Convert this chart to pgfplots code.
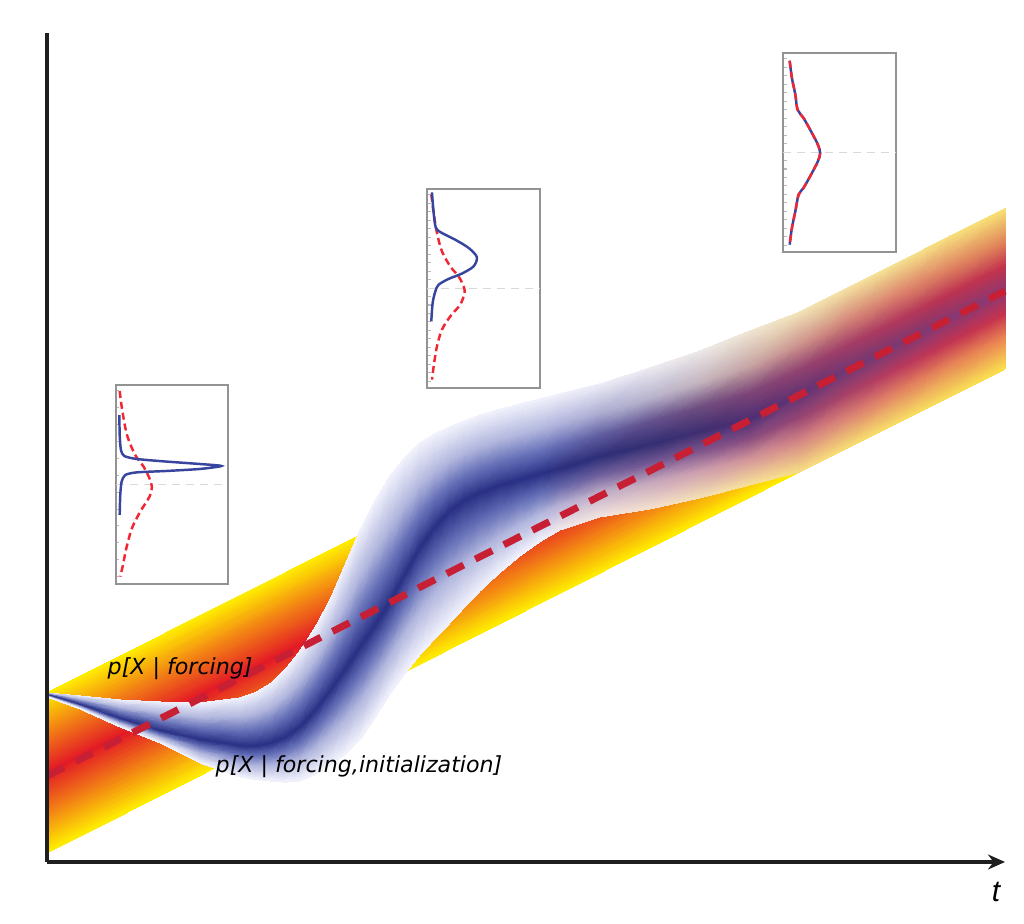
\documentclass[border=0pt]{standalone}
\usepackage{fontspec}
\usepackage{pgfplots}
\pgfplotsset{compat=1.18}
\usetikzlibrary{arrows.meta}
\setmainfont{Liberation Sans}
\newfontfamily\dvs{DejaVu Sans}
\definecolor{dashred}{rgb}{0.78,0.12,0.20}
\definecolor{inblue}{rgb}{0.22,0.27,0.62}
\definecolor{inred}{rgb}{0.95,0.15,0.20}
\definecolor{axgray}{rgb}{0.12,0.12,0.12}
\begin{document}
\begin{tikzpicture}
\useasboundingbox (-0.47cm,-0.62cm) rectangle (9.77cm,8.62cm);
\begin{axis}[
  scale only axis, width=9.58cm, height=8.29cm,
  xmin=47, xmax=1005, ymin=62, ymax=891,
  axis x line=bottom, axis y line=left,
  axis line style={axgray, line width=0.9pt},
  x axis line style={-{Stealth[length=0.17cm,width=0.15cm]}},
  y axis line style={-},
  xtick=\empty, ytick=\empty,
  clip=false, axis on top,
]
% forcing band (yellow-red)
\addplot[surf, shader=interp, mesh/color input=explicit, mesh/cols=2] table[x=x,y=y,meta=c] {
x y c
47 231 rgb=1,0.93,0
1005 714 rgb=1,0.93,0

47 191 rgb=0.95,0.50,0.08
1005 674.5 rgb=0.95,0.50,0.08

47 151 rgb=0.89,0.10,0.15
1005 635 rgb=0.89,0.10,0.15

47 111 rgb=0.95,0.50,0.08
1005 595.5 rgb=0.95,0.50,0.08

47 71 rgb=1,0.93,0
1005 556 rgb=1,0.93,0
};
% forcing + initialization band (blue)
\addplot[surf, shader=interp, mesh/color input=explicit, mesh/cols=35] table[x=x,y=y,meta=c] {
x y c
47 231 rgb=0.95,0.95,0.99
80 228 rgb=0.95,0.95,0.99
120 224 rgb=0.95,0.95,0.99
160 222 rgb=0.95,0.95,0.99
200 221 rgb=0.95,0.95,0.99
240 226 rgb=0.95,0.95,0.99
255 231.2 rgb=0.95,0.95,0.99
270 240 rgb=0.95,0.95,0.99
285 254.2 rgb=0.95,0.95,0.99
300 273 rgb=0.95,0.95,0.99
315 296.2 rgb=0.95,0.95,0.99
330 324 rgb=0.95,0.95,0.99
345 358.8 rgb=0.95,0.95,0.99
360 394 rgb=0.95,0.95,0.99
375 423.3 rgb=0.95,0.95,0.99
390 448 rgb=0.95,0.95,0.99
405 466.9 rgb=0.95,0.95,0.99
420 481 rgb=0.95,0.95,0.99
435 490.3 rgb=0.95,0.95,0.99
450 497 rgb=0.95,0.95,0.99
465 503.5 rgb=0.95,0.95,0.99
480 509 rgb=0.95,0.95,0.99
500 514.9 rgb=0.95,0.95,0.99
520 520 rgb=0.95,0.95,0.99
540 525.1 rgb=0.95,0.95,0.99
560 530 rgb=0.94,0.94,0.98
600 540 rgb=0.93,0.93,0.97
650 556 rgb=0.93,0.92,0.95
700 573 rgb=0.93,0.91,0.91
750 593 rgb=0.94,0.90,0.83
800 612 rgb=0.95,0.89,0.72
850 637 rgb=0.96,0.88,0.63
900 662 rgb=0.96,0.88,0.56
950 688 rgb=0.97,0.88,0.50
1005 715 rgb=0.97,0.88,0.45

47 230.2 rgb=0.70,0.72,0.87
80 224.4 rgb=0.70,0.72,0.87
120 216.4 rgb=0.70,0.72,0.87
160 210.4 rgb=0.70,0.72,0.87
200 206.2 rgb=0.70,0.72,0.87
240 206.8 rgb=0.70,0.72,0.87
255 209.8 rgb=0.70,0.72,0.87
270 216 rgb=0.70,0.72,0.87
285 226.9 rgb=0.70,0.72,0.87
300 242.2 rgb=0.70,0.72,0.87
315 262.65 rgb=0.70,0.72,0.87
330 287.2 rgb=0.70,0.72,0.87
345 316.6 rgb=0.70,0.72,0.87
360 346.8 rgb=0.70,0.72,0.87
375 373.1 rgb=0.70,0.72,0.87
390 397.2 rgb=0.70,0.72,0.87
405 419.7 rgb=0.70,0.72,0.87
420 439 rgb=0.70,0.72,0.87
435 452.9 rgb=0.70,0.72,0.87
450 463.4 rgb=0.70,0.72,0.87
465 471.6 rgb=0.70,0.72,0.87
480 477.8 rgb=0.70,0.72,0.87
500 484.3 rgb=0.70,0.72,0.87
520 489.6 rgb=0.70,0.72,0.87
540 494.9 rgb=0.70,0.72,0.87
560 500 rgb=0.69,0.70,0.86
600 510.8 rgb=0.68,0.68,0.82
650 525.2 rgb=0.72,0.70,0.80
700 540.6 rgb=0.76,0.70,0.74
750 557.4 rgb=0.78,0.64,0.64
800 578.8 rgb=0.80,0.57,0.55
850 604.2 rgb=0.83,0.52,0.47
900 629.2 rgb=0.86,0.50,0.42
950 654.8 rgb=0.87,0.51,0.38
1005 682.2 rgb=0.88,0.52,0.35

47 229.6 rgb=0.40,0.44,0.72
80 221.7 rgb=0.40,0.44,0.72
120 210.7 rgb=0.40,0.44,0.72
160 201.7 rgb=0.40,0.44,0.72
200 195.1 rgb=0.40,0.44,0.72
240 192.4 rgb=0.40,0.44,0.72
255 193.75 rgb=0.40,0.44,0.72
270 198 rgb=0.40,0.44,0.72
285 206.4 rgb=0.40,0.44,0.72
300 219.1 rgb=0.40,0.44,0.72
315 237.45 rgb=0.40,0.44,0.72
330 259.6 rgb=0.40,0.44,0.72
345 285 rgb=0.40,0.44,0.72
360 311.4 rgb=0.40,0.44,0.72
375 335.45 rgb=0.40,0.44,0.72
390 359.1 rgb=0.40,0.44,0.72
405 384.4 rgb=0.40,0.44,0.72
420 407.5 rgb=0.40,0.44,0.72
435 424.85 rgb=0.40,0.44,0.72
450 438.2 rgb=0.40,0.44,0.72
465 447.6 rgb=0.40,0.44,0.72
480 454.4 rgb=0.40,0.44,0.72
500 461.4 rgb=0.40,0.44,0.72
520 466.8 rgb=0.40,0.44,0.72
540 472.25 rgb=0.40,0.44,0.72
560 477.5 rgb=0.38,0.41,0.69
600 488.9 rgb=0.38,0.37,0.63
650 502.1 rgb=0.39,0.32,0.56
700 516.3 rgb=0.43,0.30,0.50
750 530.7 rgb=0.49,0.27,0.47
800 553.9 rgb=0.57,0.26,0.44
850 579.6 rgb=0.64,0.24,0.40
900 604.6 rgb=0.70,0.22,0.36
950 629.9 rgb=0.74,0.20,0.32
1005 657.6 rgb=0.77,0.20,0.30

47 229 rgb=0.16,0.19,0.52
80 219 rgb=0.16,0.19,0.52
120 205 rgb=0.16,0.19,0.52
160 193 rgb=0.16,0.19,0.52
200 184 rgb=0.16,0.19,0.52
240 178 rgb=0.16,0.19,0.52
255 177.7 rgb=0.16,0.19,0.52
270 180 rgb=0.16,0.19,0.52
285 185.9 rgb=0.16,0.19,0.52
300 196 rgb=0.16,0.19,0.52
315 212.25 rgb=0.16,0.19,0.52
330 232 rgb=0.16,0.19,0.52
345 253.4 rgb=0.16,0.19,0.52
360 276 rgb=0.16,0.19,0.52
375 297.8 rgb=0.16,0.19,0.52
390 321 rgb=0.16,0.19,0.52
405 349 rgb=0.16,0.19,0.52
420 376 rgb=0.16,0.19,0.52
435 396.8 rgb=0.16,0.19,0.52
450 413 rgb=0.16,0.19,0.52
465 423.7 rgb=0.16,0.19,0.52
480 431 rgb=0.16,0.19,0.52
500 438.5 rgb=0.16,0.19,0.52
520 444 rgb=0.16,0.19,0.52
540 449.6 rgb=0.16,0.19,0.52
560 455 rgb=0.17,0.18,0.49
600 467 rgb=0.18,0.18,0.47
650 479 rgb=0.20,0.18,0.45
700 492 rgb=0.24,0.18,0.44
750 504 rgb=0.30,0.18,0.45
800 529 rgb=0.38,0.20,0.45
850 555 rgb=0.44,0.22,0.45
900 580 rgb=0.48,0.22,0.45
950 605 rgb=0.52,0.22,0.45
1005 633 rgb=0.55,0.22,0.45

47 228.4 rgb=0.40,0.44,0.72
80 217.8 rgb=0.40,0.44,0.72
120 202.6 rgb=0.40,0.44,0.72
160 189.4 rgb=0.40,0.44,0.72
200 177.1 rgb=0.40,0.44,0.72
240 168.7 rgb=0.40,0.44,0.72
255 167.7 rgb=0.40,0.44,0.72
270 168.9 rgb=0.40,0.44,0.72
285 172.7 rgb=0.40,0.44,0.72
300 180.1 rgb=0.40,0.44,0.72
315 193.35 rgb=0.40,0.44,0.72
330 210.1 rgb=0.40,0.44,0.72
345 228.3 rgb=0.40,0.44,0.72
360 248.4 rgb=0.40,0.44,0.72
375 270.3 rgb=0.40,0.44,0.72
390 293.7 rgb=0.40,0.44,0.72
405 319.4 rgb=0.40,0.44,0.72
420 343.9 rgb=0.40,0.44,0.72
435 363.4 rgb=0.40,0.44,0.72
450 379.4 rgb=0.40,0.44,0.72
465 391.8 rgb=0.40,0.44,0.72
480 401.6 rgb=0.40,0.44,0.72
500 412.4 rgb=0.40,0.44,0.72
520 421.2 rgb=0.40,0.44,0.72
540 429.4 rgb=0.40,0.44,0.72
560 436.7 rgb=0.40,0.40,0.66
600 449 rgb=0.43,0.37,0.61
650 459.8 rgb=0.46,0.35,0.58
700 472.2 rgb=0.50,0.33,0.55
750 484.5 rgb=0.54,0.30,0.50
800 505.9 rgb=0.59,0.27,0.45
850 531.6 rgb=0.66,0.25,0.40
900 556.6 rgb=0.72,0.22,0.36
950 581.6 rgb=0.76,0.20,0.32
1005 609.6 rgb=0.78,0.20,0.30

47 227.8 rgb=0.70,0.72,0.87
80 216.6 rgb=0.70,0.72,0.87
120 200.2 rgb=0.70,0.72,0.87
160 185.8 rgb=0.70,0.72,0.87
200 170.2 rgb=0.70,0.72,0.87
240 159.4 rgb=0.70,0.72,0.87
255 157.7 rgb=0.70,0.72,0.87
270 157.8 rgb=0.70,0.72,0.87
285 159.4 rgb=0.70,0.72,0.87
300 164.2 rgb=0.70,0.72,0.87
315 174.55 rgb=0.70,0.72,0.87
330 188.2 rgb=0.70,0.72,0.87
345 203.1 rgb=0.70,0.72,0.87
360 220.8 rgb=0.70,0.72,0.87
375 242.8 rgb=0.70,0.72,0.87
390 266.4 rgb=0.70,0.72,0.87
405 289.8 rgb=0.70,0.72,0.87
420 311.8 rgb=0.70,0.72,0.87
435 330 rgb=0.70,0.72,0.87
450 345.8 rgb=0.70,0.72,0.87
465 359.9 rgb=0.70,0.72,0.87
480 372.2 rgb=0.70,0.72,0.87
500 386.3 rgb=0.70,0.72,0.87
520 398.4 rgb=0.70,0.72,0.87
540 409.3 rgb=0.70,0.72,0.87
560 418.4 rgb=0.72,0.69,0.83
600 431 rgb=0.75,0.68,0.78
650 440.6 rgb=0.78,0.66,0.74
700 452.4 rgb=0.80,0.62,0.68
750 465 rgb=0.82,0.58,0.60
800 482.8 rgb=0.83,0.52,0.52
850 508.2 rgb=0.85,0.50,0.45
900 533.2 rgb=0.88,0.50,0.38
950 558.2 rgb=0.90,0.52,0.34
1005 586.2 rgb=0.92,0.52,0.32

47 227 rgb=0.95,0.95,0.99
80 215 rgb=0.95,0.95,0.99
120 197 rgb=0.95,0.95,0.99
160 181 rgb=0.95,0.95,0.99
200 161 rgb=0.95,0.95,0.99
240 147 rgb=0.95,0.95,0.99
255 144.4 rgb=0.95,0.95,0.99
270 143 rgb=0.95,0.95,0.99
285 141.75 rgb=0.95,0.95,0.99
300 143 rgb=0.95,0.95,0.99
315 149.4 rgb=0.95,0.95,0.99
330 159 rgb=0.95,0.95,0.99
345 169.6 rgb=0.95,0.95,0.99
360 184 rgb=0.95,0.95,0.99
375 206.1 rgb=0.95,0.95,0.99
390 230 rgb=0.95,0.95,0.99
405 250.4 rgb=0.95,0.95,0.99
420 269 rgb=0.95,0.95,0.99
435 285.4 rgb=0.95,0.95,0.99
450 301 rgb=0.95,0.95,0.99
465 317.3 rgb=0.95,0.95,0.99
480 333 rgb=0.95,0.95,0.99
500 351.5 rgb=0.95,0.95,0.99
520 368 rgb=0.95,0.95,0.99
540 382.4 rgb=0.95,0.95,0.99
560 394 rgb=0.95,0.91,0.92
600 407 rgb=0.95,0.89,0.87
650 415 rgb=0.96,0.88,0.80
700 426 rgb=0.96,0.88,0.70
750 439 rgb=0.97,0.88,0.60
800 452 rgb=0.97,0.87,0.52
850 477 rgb=0.97,0.87,0.45
900 502 rgb=0.97,0.87,0.40
950 527 rgb=0.97,0.87,0.35
1005 555 rgb=0.98,0.88,0.30
};
% ensemble mean (dashed)
\addplot[dashred, line width=2pt, dash pattern=on 0.19cm off 0.13cm] coordinates {(47,148) (1005,633)};
\node[anchor=base west, inner sep=0pt, font=\dvs\itshape\fontsize{6.3}{7.5}\selectfont] at (axis cs:107,249) {p[X | forcing]};
\node[anchor=base west, inner sep=0pt, font=\dvs\itshape\fontsize{6.3}{7.5}\selectfont] at (axis cs:215,151) {p[X | forcing,initialization]};
\node[anchor=base, inner sep=0pt, font=\itshape\fontsize{8.5}{10}\selectfont] at (axis cs:996,22) {t};
\end{axis}

% inset 1
\begin{axis}[
  at={(0.69cm,4.77cm)}, anchor=north west, scale only axis, width=1.12cm, height=1.99cm,
  xmin=0, xmax=1, ymin=0, ymax=1, y dir=reverse,
  axis background/.style={fill=white},
  axis line style={gray!85, line width=0.55pt},
  xtick=\empty, ytick={0.03,0.115,0.2,0.284,0.369,0.454,0.539,0.624,0.708,0.793,0.878,0.963},
  yticklabels={}, ytick pos=left, tick align=inside, major tick length=0.035cm,
  tick style={gray!55, line width=0.3pt},
]
\addplot[gray!30, line width=0.5pt, dash pattern=on 0.08cm off 0.06cm] coordinates {(0,0.5) (1,0.5)};
\addplot[inred, line width=0.7pt, dash pattern=on 0.07cm off 0.04cm, smooth] coordinates {
(0.033,0.03) (0.053,0.117) (0.098,0.251) (0.172,0.352) (0.246,0.41) (0.299,0.469) (0.32,0.511) (0.299,0.561) (0.216,0.637) (0.142,0.72) (0.092,0.821) (0.062,0.905) (0.038,0.963)};
\addplot[inblue, line width=0.7pt, smooth, tension=0.4] coordinates {
(0.03,0.151) (0.033,0.251) (0.044,0.327) (0.074,0.357) (0.186,0.372) (0.453,0.385) (0.749,0.397) (0.941,0.407) (0.749,0.422) (0.453,0.432) (0.186,0.439) (0.083,0.452) (0.05,0.486) (0.038,0.553) (0.033,0.653)};
\end{axis}

% inset 2
\begin{axis}[
  at={(3.80cm,6.73cm)}, anchor=north west, scale only axis, width=1.13cm, height=1.99cm,
  xmin=0, xmax=1, ymin=0, ymax=1, y dir=reverse,
  axis background/.style={fill=white},
  axis line style={gray!85, line width=0.55pt},
  xtick=\empty, ytick={0.030,0.073,0.115,0.158,0.200,0.243,0.285,0.328,0.370,0.413,0.455,0.498,0.540,0.583,0.626,0.668,0.711,0.753,0.796,0.838,0.881,0.923,0.966},
  yticklabels={}, ytick pos=left, tick align=inside, major tick length=0.035cm,
  tick style={gray!55, line width=0.3pt},
]
\addplot[gray!30, line width=0.5pt, dash pattern=on 0.08cm off 0.06cm] coordinates {(0,0.5) (1,0.5)};
\addplot[inred, line width=0.7pt, dash pattern=on 0.07cm off 0.04cm, smooth] coordinates {
(0.038,0.028) (0.059,0.121) (0.088,0.221) (0.132,0.313) (0.206,0.389) (0.279,0.439) (0.324,0.489) (0.332,0.523) (0.294,0.581) (0.206,0.64) (0.132,0.707) (0.088,0.791) (0.059,0.891) (0.044,0.958)};
\addplot[inblue, line width=0.7pt, smooth] coordinates {
(0.044,0.017) (0.059,0.121) (0.079,0.196) (0.132,0.221) (0.25,0.255) (0.368,0.296) (0.441,0.342) (0.412,0.389) (0.309,0.425) (0.191,0.452) (0.103,0.481) (0.074,0.514) (0.05,0.573) (0.038,0.665)};
\end{axis}

% inset 3
\begin{axis}[
  at={(7.36cm,8.09cm)}, anchor=north west, scale only axis, width=1.13cm, height=1.99cm,
  xmin=0, xmax=1, ymin=0, ymax=1, y dir=reverse,
  axis background/.style={fill=white},
  axis line style={gray!85, line width=0.55pt},
  xtick=\empty, ytick={0.030,0.073,0.115,0.158,0.200,0.243,0.285,0.328,0.370,0.413,0.455,0.498,0.540,0.583,0.626,0.668,0.711,0.753,0.796,0.838,0.881,0.923,0.966},
  yticklabels={}, ytick pos=left, tick align=inside, major tick length=0.035cm,
  tick style={gray!55, line width=0.3pt},
]
\addplot[gray!30, line width=0.5pt, dash pattern=on 0.08cm off 0.06cm] coordinates {(0,0.5) (1,0.5)};
\addplot[inblue, line width=0.7pt, smooth] coordinates {
(0.059,0.039) (0.079,0.126) (0.109,0.209) (0.129,0.285) (0.182,0.327) (0.256,0.402) (0.309,0.461) (0.329,0.503) (0.309,0.544) (0.256,0.603) (0.182,0.678) (0.138,0.712) (0.109,0.796) (0.079,0.879) (0.059,0.963)};
\addplot[inred, line width=0.7pt, dash pattern=on 0.07cm off 0.04cm, smooth] coordinates {
(0.059,0.039) (0.079,0.126) (0.109,0.209) (0.129,0.285) (0.182,0.327) (0.256,0.402) (0.309,0.461) (0.329,0.503) (0.309,0.544) (0.256,0.603) (0.182,0.678) (0.138,0.712) (0.109,0.796) (0.079,0.879) (0.059,0.963)};
\end{axis}
\end{tikzpicture}
\end{document}
